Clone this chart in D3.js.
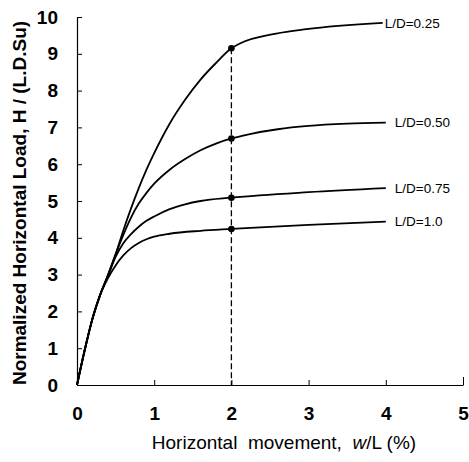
<!DOCTYPE html>
<html>
<head>
<meta charset="utf-8">
<script src="https://cdn.jsdelivr.net/npm/d3@7"></script>
<style>
  body { margin: 0; background: #fff; }
  text { font-family: Arial, "Liberation Sans", sans-serif; fill: #000; }
</style>
</head>
<body>
<div id="chart"></div>
<script>
// values (x = w/L in %, y = H/(L.D.Su))
var seriesNames = ["L/D=0.25", "L/D=0.50", "L/D=0.75", "L/D=1.0"];

var ld025 = [[0,0],[0.1,0.95],[0.2,1.8],[0.3,2.45],[0.4,2.98],[0.5,3.55],[0.6,4.2],[0.7,4.8],
  [0.8,5.35],[0.9,5.85],[1.0,6.3],[1.2,7.1],[1.4,7.75],[1.6,8.3],[1.8,8.75],[2,9.15],[2.11,9.28],
  [2.58,9.55],[2.97,9.67],[3.96,9.84]];
var ld050 = [[0,0],[0.1,0.95],[0.2,1.8],[0.3,2.45],[0.4,2.98],[0.5,3.55],[0.6,4.08],[0.7,4.55],
  [0.8,4.93],[0.9,5.22],[1.0,5.47],[1.2,5.85],[1.4,6.14],[1.6,6.38],[1.8,6.56],[2,6.7],
  [2.24,6.82],[2.6,6.95],[3.0,7.04],[3.5,7.1],[4,7.13]];
var ld075 = [[0,0],[0.1,0.95],[0.2,1.8],[0.3,2.45],[0.4,2.96],[0.5,3.48],[0.6,3.85],[0.7,4.1],
  [0.8,4.3],[0.9,4.46],[1.0,4.58],[1.2,4.78],[1.4,4.91],[1.6,5.0],[2,5.09],[3,5.24],[4,5.35]];
var ld100 = [[0,0],[0.1,0.95],[0.2,1.8],[0.3,2.45],[0.4,2.9],[0.5,3.25],[0.6,3.52],[0.7,3.72],
  [0.8,3.86],[0.9,3.96],[1.0,4.03],[1.2,4.11],[1.6,4.19],[2,4.24],[3,4.35],[4,4.44]];
var allSeries = [ld025, ld050, ld075, ld100];

// marked points at w/L = 2 %
var markX = 2;
var markY = [9.15, 6.7, 5.09, 4.24];

var xTicks = [0, 1, 2, 3, 4, 5];
var yTicks = [0, 1, 2, 3, 4, 5, 6, 7, 8, 9, 10];

var width = 469, height = 462;
var margin = {left: 77, right: 6, top: 17, bottom: 77};

var svg = d3.select("#chart").append("svg")
    .attr("width", width)
    .attr("height", height);

var x = d3.scaleLinear().domain([0, 5]).range([margin.left, width - margin.right]);
var y = d3.scaleLinear().domain([0, 10]).range([height - margin.bottom, margin.top]);

// axes, ticks pointing inwards
var xAxis = svg.append("g")
    .attr("transform", "translate(0," + y(0) + ")")
    .call(d3.axisBottom(x).tickValues(xTicks).tickSize(-5).tickSizeOuter(0).tickPadding(22).tickFormat(d3.format("d")));
var yAxis = svg.append("g")
    .attr("transform", "translate(" + x(0) + ",0)")
    .call(d3.axisLeft(y).tickValues(yTicks).tickSize(-5).tickSizeOuter(0).tickPadding(19).tickFormat(d3.format("d")));

[xAxis, yAxis].forEach(function(a) {
    a.select(".domain").attr("stroke", "#000").attr("stroke-width", 1.2);
    a.selectAll(".tick line").attr("stroke", "#000").attr("stroke-width", 1);
    a.selectAll(".tick text")
        .style("font-family", "Arial, 'Liberation Sans', sans-serif")
        .style("font-size", "19px")
        .style("font-weight", "bold")
        .attr("fill", "#000");
});
// longer end tick at x = 5
xAxis.selectAll(".tick line").filter(function(d) { return d === 5; }).attr("y2", -8);

// dashed marker line at w/L = 2 %
svg.append("line")
    .attr("x1", x(markX)).attr("x2", x(markX))
    .attr("y1", y(markY[0])).attr("y2", y(0))
    .attr("stroke", "#000")
    .attr("stroke-width", 1.3)
    .attr("stroke-dasharray", "6,3");

var line = d3.line()
    .x(function(d) { return x(d[0]); })
    .y(function(d) { return y(d[1]); })
    .curve(d3.curveMonotoneX);

svg.selectAll(".curve")
    .data(allSeries)
    .enter().append("path")
    .attr("class", "curve")
    .attr("d", line)
    .attr("fill", "none")
    .attr("stroke", "#000")
    .attr("stroke-width", 1.8);

svg.selectAll(".dot")
    .data(markY)
    .enter().append("circle")
    .attr("class", "dot")
    .attr("cx", x(markX))
    .attr("cy", function(d) { return y(d); })
    .attr("r", 3.3)
    .attr("fill", "#000");

// curve labels at the right ends
svg.selectAll(".lbl")
    .data(allSeries)
    .enter().append("text")
    .attr("class", "lbl")
    .attr("x", function(d, i) { return x(d[d.length - 1][0]) + (i === 0 ? 2 : 9); })
    .attr("y", function(d) { return y(d[d.length - 1][1]); })
    .attr("dy", "0.35em")
    .style("font-size", "13.5px")
    .text(function(d, i) { return seriesNames[i]; });

// axis titles
var xTitle = svg.append("text")
    .attr("x", 284)
    .attr("y", 449)
    .attr("text-anchor", "middle")
    .style("white-space", "pre")
    .style("font-size", "19px");
xTitle.append("tspan").text("Horizontal  movement,  ");
xTitle.append("tspan").style("font-style", "italic").text("w");
xTitle.append("tspan").text("/L (%)");

svg.append("text")
    .attr("transform", "translate(26," + 203 + ") rotate(-90)")
    .attr("text-anchor", "middle")
    .style("font-size", "19px")
    .style("font-weight", "bold")
    .text("Normalized Horizontal Load, H / (L.D.Su)");
</script>
</body>
</html>
